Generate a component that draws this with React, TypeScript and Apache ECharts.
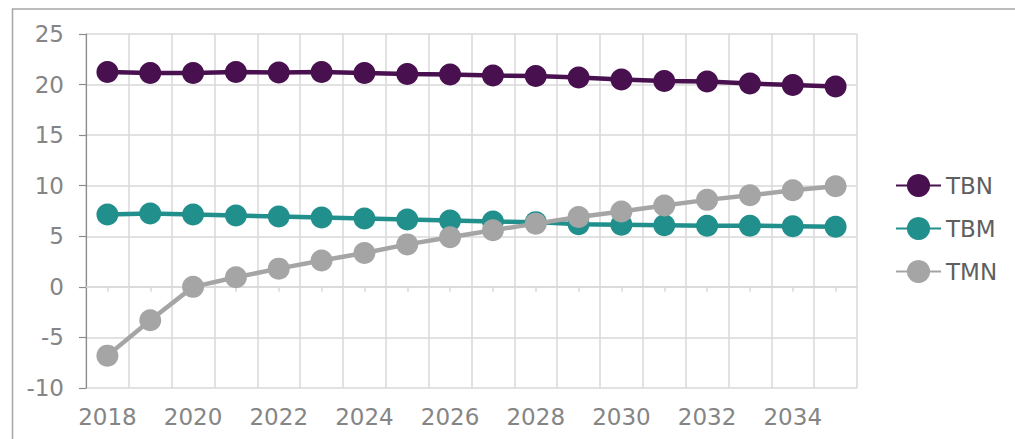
import React, { useEffect, useRef } from "react";
import * as echarts from "echarts";

const years = ["2018","2019","2020","2021","2022","2023","2024","2025","2026","2027","2028","2029","2030","2031","2032","2033","2034","2035"];
const tbn = [21.25, 21.15, 21.15, 21.25, 21.2, 21.25, 21.15, 21.05, 21.0, 20.9, 20.85, 20.7, 20.5, 20.35, 20.3, 20.1, 19.95, 19.8];
const tbm = [7.15, 7.25, 7.15, 7.05, 6.95, 6.85, 6.75, 6.65, 6.55, 6.45, 6.4, 6.2, 6.15, 6.1, 6.05, 6.05, 6.0, 5.95];
const tmn = [-6.8, -3.3, 0.0, 0.95, 1.8, 2.6, 3.35, 4.2, 4.9, 5.6, 6.25, 6.9, 7.45, 8.05, 8.6, 9.05, 9.55, 9.95];
const seriesNames = ["TBN", "TBM", "TMN"];
const colors = ["#48104f", "#21908c", "#a5a5a5"];

const FONT = "DejaVu Sans";

export default function App() {
  const ref = useRef<HTMLDivElement>(null);
  useEffect(() => {
    if (!ref.current) return;
    const chart = echarts.init(ref.current, null, { renderer: "svg" });
    const values = [tbn, tbm, tmn];
    chart.setOption({
      animation: false,
      backgroundColor: "#ffffff",
      textStyle: { fontFamily: FONT },
      graphic: [
        {
          type: "rect",
          shape: { x: 12.5, y: 9, width: 1200, height: 600 },
          style: { fill: "none", stroke: "#a6a6a6", lineWidth: 1.5 },
          silent: true,
          z: -1,
        },
      ],
      grid: { left: 86, right: 158, top: 34, bottom: 51, containLabel: false },
      legend: {
        orient: "vertical",
        left: 895,
        top: 171,
        padding: 0,
        itemWidth: 45,
        itemHeight: 29,
        itemGap: 14,
        data: seriesNames,
        textStyle: { fontFamily: FONT, fontSize: 23, color: "#5f5f5f", lineHeight: 29 },
      },
      xAxis: [
        {
          type: "category",
          data: years,
          position: "bottom",
          boundaryGap: true,
          axisLine: { show: false, onZero: false },
          axisTick: { show: false },
          axisLabel: { interval: 1, fontFamily: FONT, fontSize: 23, color: "#858585", margin: 17 },
          splitLine: { show: true, interval: 0, lineStyle: { color: "#d9d9d9", width: 1.5 } },
        },
        {
          type: "category",
          data: years,
          position: "bottom",
          boundaryGap: true,
          axisLine: { show: true, onZero: true, lineStyle: { color: "#d9d9d9", width: 1.5 } },
          axisTick: { show: true, interval: 0, alignWithLabel: true, length: 5, lineStyle: { color: "#d9d9d9", width: 1.5 } },
          axisLabel: { show: false },
          splitLine: { show: false },
        },
      ],
      yAxis: {
        type: "value",
        min: -10,
        max: 25,
        interval: 5,
        axisLine: { show: true, lineStyle: { color: "#8c8c8c", width: 1.2 } },
        axisTick: { show: true, length: 7, lineStyle: { color: "#8c8c8c", width: 1.2 } },
        axisLabel: { fontFamily: FONT, fontSize: 23, color: "#858585", margin: 22 },
        splitLine: { show: true, lineStyle: { color: "#d9d9d9", width: 1.5 } },
      },
      series: seriesNames.map((name, i) => ({
        name,
        type: "line",
        xAxisIndex: 0,
        data: values[i],
        symbol: "circle",
        symbolSize: 22,
        lineStyle: { color: colors[i], width: 4.5 },
        itemStyle: { color: colors[i] },
        z: 2 + i,
      })),
    });
    return () => chart.dispose();
  }, []);
  return (
    <div
      ref={ref}
      style={{ position: "fixed", left: 0, top: 0, width: 1015, height: 439, background: "#fff" }}
    />
  );
}
